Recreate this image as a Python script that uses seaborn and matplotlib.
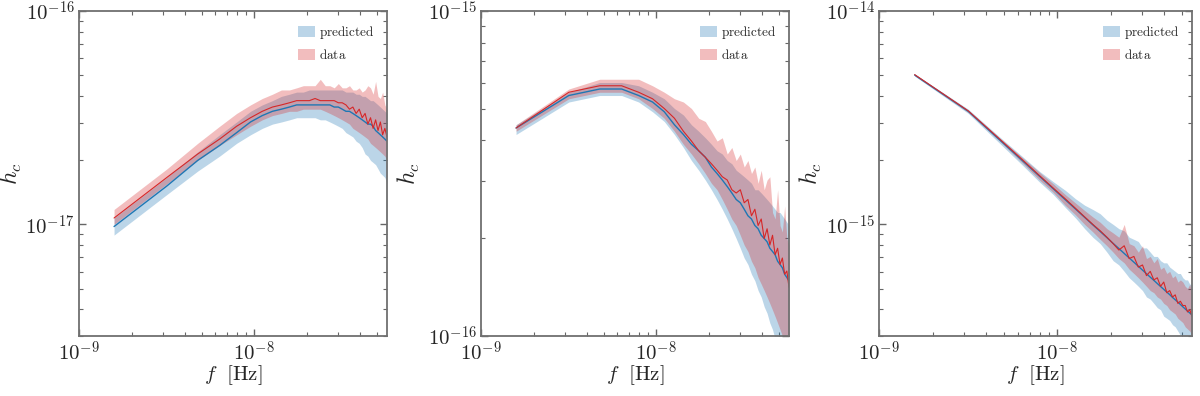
import numpy as np
import pandas as pd
import seaborn as sns
import matplotlib.pyplot as plt
import matplotlib.ticker as mticker
import matplotlib.patches as mpatches

# frequency bins f_k = k / T  (T ~ 20 yr)
FREQ_BIN = 1.585e-9
N_BINS = 36
freqs = FREQ_BIN * np.arange(1, N_BINS + 1)

# all values are log10(h_c)
P1_PRED_MED = [-17.01, -16.82, -16.70, -16.63, -16.57, -16.52, -16.49, -16.47, -16.46, -16.45,
               -16.44, -16.44, -16.44, -16.44, -16.44, -16.44, -16.44, -16.45, -16.45, -16.46,
               -16.47, -16.47, -16.48, -16.49, -16.50, -16.51, -16.52, -16.53, -16.53, -16.54,
               -16.56, -16.57, -16.58, -16.59, -16.60, -16.61]
P1_PRED_LO = [-17.05, -16.86, -16.75, -16.68, -16.62, -16.58, -16.55, -16.53, -16.52, -16.51,
              -16.50, -16.50, -16.50, -16.50, -16.51, -16.51, -16.52, -16.53, -16.54, -16.55,
              -16.57, -16.58, -16.59, -16.61, -16.62, -16.64, -16.67, -16.68, -16.70, -16.71,
              -16.72, -16.74, -16.76, -16.77, -16.78, -16.81]
P1_PRED_HI = [-16.97, -16.78, -16.66, -16.58, -16.52, -16.47, -16.44, -16.42, -16.40, -16.39,
              -16.38, -16.38, -16.37, -16.37, -16.37, -16.37, -16.37, -16.37, -16.37, -16.37,
              -16.38, -16.38, -16.38, -16.39, -16.39, -16.40, -16.40, -16.41, -16.42, -16.42,
              -16.43, -16.44, -16.45, -16.46, -16.47, -16.48]
P1_DATA_MED = [-16.97, -16.78, -16.67, -16.60, -16.54, -16.50, -16.47, -16.45, -16.44, -16.43,
               -16.42, -16.42, -16.42, -16.41, -16.42, -16.42, -16.42, -16.42, -16.43, -16.43,
               -16.44, -16.46, -16.45, -16.48, -16.46, -16.50, -16.48, -16.53, -16.50, -16.55,
               -16.51, -16.56, -16.52, -16.58, -16.55, -16.59]
P1_DATA_LO = [-17.00, -16.81, -16.70, -16.63, -16.58, -16.54, -16.51, -16.49, -16.48, -16.47,
              -16.47, -16.46, -16.46, -16.46, -16.46, -16.47, -16.48, -16.49, -16.50, -16.51,
              -16.52, -16.53, -16.55, -16.56, -16.57, -16.58, -16.59, -16.60, -16.62, -16.63,
              -16.64, -16.65, -16.66, -16.67, -16.68, -16.70]
P1_DATA_HI = [-16.93, -16.74, -16.62, -16.54, -16.48, -16.44, -16.41, -16.39, -16.37, -16.37,
              -16.36, -16.35, -16.35, -16.35, -16.32, -16.35, -16.35, -16.36, -16.34, -16.36,
              -16.36, -16.35, -16.37, -16.37, -16.36, -16.38, -16.37, -16.35, -16.36, -16.39,
              -16.33, -16.40, -16.41, -16.38, -16.44, -16.46]

P2_PRED_MED = [-15.36, -15.26, -15.24, -15.24, -15.26, -15.28, -15.31, -15.35, -15.38, -15.41,
               -15.43, -15.45, -15.48, -15.50, -15.52, -15.54, -15.56, -15.58, -15.59, -15.61,
               -15.63, -15.64, -15.66, -15.67, -15.69, -15.70, -15.71, -15.73, -15.74, -15.75,
               -15.77, -15.78, -15.79, -15.81, -15.82, -15.83]
P2_PRED_LO = [-15.38, -15.28, -15.26, -15.26, -15.28, -15.31, -15.34, -15.38, -15.42, -15.46,
              -15.49, -15.52, -15.55, -15.58, -15.61, -15.64, -15.67, -15.70, -15.73, -15.76,
              -15.78, -15.81, -15.83, -15.86, -15.88, -15.91, -15.93, -15.96, -15.98, -16.01,
              -16.04, -16.07, -16.10, -16.13, -16.16, -16.19]
P2_PRED_HI = [-15.35, -15.25, -15.22, -15.22, -15.23, -15.25, -15.27, -15.30, -15.32, -15.35,
              -15.37, -15.39, -15.41, -15.43, -15.44, -15.46, -15.47, -15.49, -15.50, -15.51,
              -15.52, -15.53, -15.55, -15.55, -15.56, -15.57, -15.58, -15.59, -15.60, -15.61,
              -15.62, -15.62, -15.63, -15.64, -15.65, -15.66]
P2_DATA_MED = [-15.36, -15.25, -15.23, -15.23, -15.25, -15.27, -15.30, -15.33, -15.37, -15.40,
               -15.43, -15.45, -15.47, -15.49, -15.51, -15.52, -15.55, -15.56, -15.55, -15.59,
               -15.58, -15.63, -15.61, -15.66, -15.64, -15.70, -15.67, -15.72, -15.69, -15.75,
               -15.73, -15.78, -15.76, -15.81, -15.80, -15.85]
P2_DATA_LO = [-15.37, -15.27, -15.25, -15.25, -15.27, -15.30, -15.33, -15.37, -15.41, -15.44,
              -15.47, -15.50, -15.53, -15.55, -15.58, -15.61, -15.64, -15.66, -15.69, -15.72,
              -15.74, -15.77, -15.79, -15.82, -15.84, -15.86, -15.88, -15.90, -15.92, -15.94,
              -15.96, -15.98, -16.00, -16.02, -16.04, -16.06]
P2_DATA_HI = [-15.35, -15.24, -15.21, -15.21, -15.21, -15.23, -15.25, -15.27, -15.28, -15.30,
              -15.33, -15.34, -15.37, -15.40, -15.39, -15.44, -15.42, -15.46, -15.44, -15.48,
              -15.46, -15.50, -15.48, -15.53, -15.49, -15.55, -15.52, -15.51, -15.62, -15.64,
              -15.55, -15.66, -15.68, -15.60, -15.70, -15.72]

P3_PRED_MED = [-14.300, -14.470, -14.604, -14.699, -14.773, -14.833, -14.884, -14.928, -14.967, -15.002,
               -15.033, -15.062, -15.089, -15.113, -15.136, -15.157, -15.177, -15.196, -15.214, -15.231,
               -15.247, -15.262, -15.277, -15.291, -15.304, -15.317, -15.329, -15.342, -15.353, -15.364,
               -15.375, -15.386, -15.396, -15.406, -15.415, -15.424]
P3_PRED_LO = [-14.305, -14.48, -14.62, -14.72, -14.80, -14.86, -14.92, -14.97, -15.02, -15.06,
              -15.09, -15.13, -15.17, -15.19, -15.22, -15.25, -15.27, -15.29, -15.31, -15.34,
              -15.35, -15.37, -15.39, -15.40, -15.43, -15.44, -15.45, -15.47, -15.48, -15.50,
              -15.52, -15.52, -15.54, -15.56, -15.57, -15.59]
P3_PRED_HI = [-14.295, -14.46, -14.59, -14.68, -14.75, -14.80, -14.84, -14.88, -14.91, -14.93,
              -14.95, -14.98, -15.00, -15.02, -15.03, -15.06, -15.07, -15.08, -15.11, -15.11,
              -15.13, -15.15, -15.15, -15.17, -15.18, -15.18, -15.20, -15.21, -15.22, -15.23,
              -15.23, -15.25, -15.26, -15.26, -15.28, -15.28]
P3_DATA_MED = [-14.298, -14.468, -14.600, -14.695, -14.770, -14.830, -14.880, -14.925, -14.965, -15.000,
               -15.030, -15.060, -15.090, -15.120, -15.100, -15.160, -15.150, -15.200, -15.190, -15.240,
               -15.220, -15.260, -15.250, -15.290, -15.270, -15.320, -15.310, -15.340, -15.330, -15.370,
               -15.360, -15.380, -15.380, -15.410, -15.400, -15.430]
P3_DATA_LO = [-14.302, -14.475, -14.61, -14.71, -14.79, -14.85, -14.91, -14.955, -15.00, -15.035,
              -15.07, -15.10, -15.13, -15.16, -15.18, -15.21, -15.23, -15.25, -15.27, -15.29,
              -15.31, -15.32, -15.34, -15.35, -15.37, -15.38, -15.40, -15.41, -15.42, -15.44,
              -15.45, -15.46, -15.48, -15.49, -15.50, -15.52]
P3_DATA_HI = [-14.296, -14.465, -14.595, -14.685, -14.755, -14.81, -14.86, -14.90, -14.935, -14.965,
              -14.99, -15.02, -15.04, -15.06, -15.00, -15.09, -15.10, -15.13, -15.10, -15.16,
              -15.15, -15.18, -15.16, -15.21, -15.20, -15.23, -15.22, -15.25, -15.24, -15.27,
              -15.26, -15.27, -15.29, -15.30, -15.28, -15.32]

YLIMS = [(3.0e-18, 1e-16), (1e-16, 1e-15), (3.0e-16, 1e-14)]
PRED_COLOR = "#1f77b4"
DATA_COLOR = "#d62728"

panels = [
    (P1_PRED_MED, P1_PRED_LO, P1_PRED_HI, P1_DATA_MED, P1_DATA_LO, P1_DATA_HI),
    (P2_PRED_MED, P2_PRED_LO, P2_PRED_HI, P2_DATA_MED, P2_DATA_LO, P2_DATA_HI),
    (P3_PRED_MED, P3_PRED_LO, P3_PRED_HI, P3_DATA_MED, P3_DATA_LO, P3_DATA_HI),
]

sns.set_theme(style="ticks")
plt.rcParams["mathtext.fontset"] = "cm"
plt.rcParams["font.family"] = ["DejaVu Serif"]

fig = plt.figure(figsize=(12, 3.96), dpi=100)
positions = [
    [0.0658, 0.1515, 0.2567, 0.8207],
    [0.4008, 0.1515, 0.2567, 0.8207],
    [0.7325, 0.1515, 0.2608, 0.8207],
]
ylabel_x = [-0.18, -0.19, -0.175]

def decade_label(v, pos):
    e = int(np.round(np.log10(v)))
    return r"$10^{%d}$" % e

for i, (pm, plo, phi, dm, dlo, dhi) in enumerate(panels):
    ax = fig.add_axes(positions[i])
    df = pd.DataFrame({
        "f": np.concatenate([freqs, freqs]),
        "h": 10 ** np.concatenate([np.array(pm), np.array(dm)]),
        "source": ["predicted"] * N_BINS + ["data"] * N_BINS,
    })

    ax.fill_between(freqs, 10 ** np.array(plo), 10 ** np.array(phi),
                    color=PRED_COLOR, alpha=0.3, lw=0)
    ax.fill_between(freqs, 10 ** np.array(dlo), 10 ** np.array(dhi),
                    color=DATA_COLOR, alpha=0.3, lw=0)
    sns.lineplot(data=df[df.source == "predicted"], x="f", y="h", color=PRED_COLOR,
                 lw=1.0, ax=ax, estimator=None)
    sns.lineplot(data=df[df.source == "data"], x="f", y="h", color=DATA_COLOR,
                 lw=0.8, ax=ax, estimator=None)

    ax.set_xscale("log")
    ax.set_yscale("log")
    ax.set_xlim(1e-9, freqs[-1])
    ax.set_ylim(*YLIMS[i])

    ax.xaxis.set_major_locator(mticker.LogLocator(base=10, numticks=10))
    ax.yaxis.set_major_locator(mticker.LogLocator(base=10, numticks=10))
    ax.xaxis.set_minor_locator(mticker.LogLocator(base=10, subs=np.arange(2, 10), numticks=20))
    ax.yaxis.set_minor_locator(mticker.LogLocator(base=10, subs=np.arange(2, 10), numticks=20))
    ax.xaxis.set_major_formatter(mticker.FuncFormatter(decade_label))
    ax.yaxis.set_major_formatter(mticker.FuncFormatter(decade_label))
    ax.xaxis.set_minor_formatter(mticker.NullFormatter())
    ax.yaxis.set_minor_formatter(mticker.NullFormatter())

    ax.tick_params(which="both", direction="in", top=True, right=True,
                   color="#666666", labelsize=15, pad=3)
    ax.tick_params(which="major", length=5, width=1.0)
    ax.tick_params(which="minor", length=3, width=0.8)
    for sp in ax.spines.values():
        sp.set_visible(True)
        sp.set_color("#707070")
        sp.set_linewidth(1.3)

    ax.set_xlabel(r"$f\ \ [\mathrm{Hz}]$", fontsize=15)
    ax.set_ylabel(r"$h_c$", fontsize=17)
    ax.xaxis.set_label_coords(0.5, -0.085)
    ax.yaxis.set_label_coords(ylabel_x[i], 0.5)

    handles = [
        mpatches.Patch(facecolor=PRED_COLOR, alpha=0.3, lw=0, label=r"$\mathrm{predicted}$"),
        mpatches.Patch(facecolor=DATA_COLOR, alpha=0.3, lw=0, label=r"$\mathrm{data}$"),
    ]
    ax.legend(handles=handles, loc="upper right", frameon=False, fontsize=9.5,
              handlelength=1.3, handleheight=0.9, handletextpad=0.3,
              labelspacing=0.5, borderaxespad=0.6)

fig.savefig("out.png", dpi=100)
